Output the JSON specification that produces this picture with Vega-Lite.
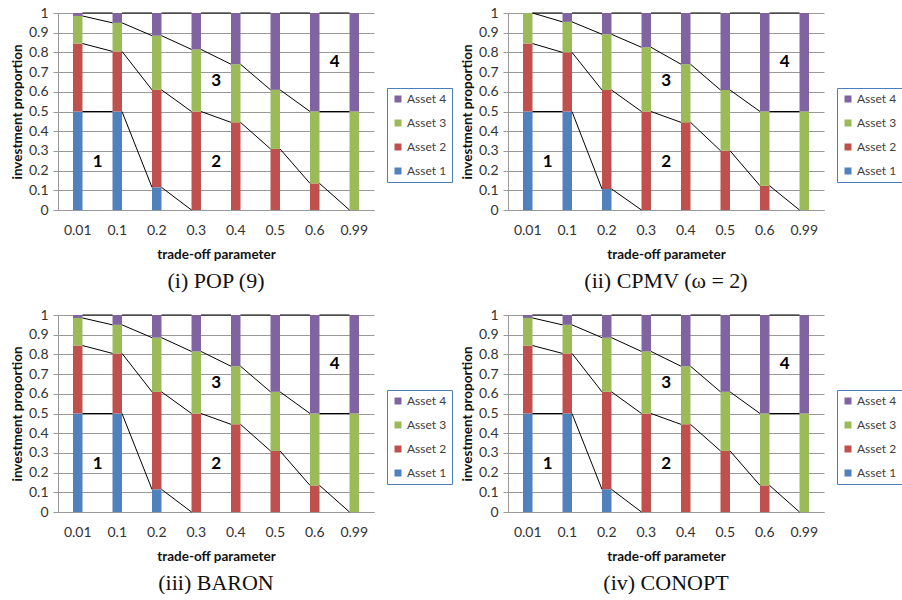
{
  "$schema": "https://vega.github.io/schema/vega-lite/v6.json",
  "padding": {"left": 10, "top": 6, "right": 0, "bottom": 0},
  "background": "white",
  "config": {
    "view": {"stroke": null},
    "axis": {"labelFont": "Lato", "labelFontSize": 14, "labelColor": "#333333", "titleFont": "Lato", "titleFontSize": 13.5, "titleFontWeight": "bold", "titleColor": "#111111", "gridColor": "#999999", "domainColor": "#999999", "tickColor": "#999999"},
    "legend": {"labelFont": "Lato", "labelFontSize": 12, "labelColor": "#404040", "strokeColor": "#4a7ebb", "padding": 5, "rowPadding": 12, "symbolType": "square", "symbolSize": 49, "symbolStrokeWidth": 0, "labelOffset": 3, "orient": "none", "legendX": 329, "legendY": 75},
    "title": {"font": "Liberation Serif", "fontSize": 22, "fontWeight": "normal", "color": "#111111", "orient": "bottom", "frame": "group", "offset": 10}
  },
  "datasets": {
    "pop": [
      {"p": "0.01", "Asset 1": 0.5, "Asset 2": 0.345, "Asset 3": 0.14, "Asset 4": 0.015},
      {"p": "0.1", "Asset 1": 0.5, "Asset 2": 0.305, "Asset 3": 0.145, "Asset 4": 0.05},
      {"p": "0.2", "Asset 1": 0.115, "Asset 2": 0.495, "Asset 3": 0.275, "Asset 4": 0.115},
      {"p": "0.3", "Asset 1": 0, "Asset 2": 0.5, "Asset 3": 0.315, "Asset 4": 0.185},
      {"p": "0.4", "Asset 1": 0, "Asset 2": 0.445, "Asset 3": 0.295, "Asset 4": 0.26},
      {"p": "0.5", "Asset 1": 0, "Asset 2": 0.31, "Asset 3": 0.3, "Asset 4": 0.39},
      {"p": "0.6", "Asset 1": 0, "Asset 2": 0.135, "Asset 3": 0.365, "Asset 4": 0.5},
      {"p": "0.99", "Asset 1": 0, "Asset 2": 0, "Asset 3": 0.5, "Asset 4": 0.5}
    ],
    "cpmv": [
      {"p": "0.01", "Asset 1": 0.5, "Asset 2": 0.345, "Asset 3": 0.155, "Asset 4": 0},
      {"p": "0.1", "Asset 1": 0.5, "Asset 2": 0.3, "Asset 3": 0.155, "Asset 4": 0.045},
      {"p": "0.2", "Asset 1": 0.107, "Asset 2": 0.502, "Asset 3": 0.283, "Asset 4": 0.108},
      {"p": "0.3", "Asset 1": 0, "Asset 2": 0.5, "Asset 3": 0.326, "Asset 4": 0.174},
      {"p": "0.4", "Asset 1": 0, "Asset 2": 0.445, "Asset 3": 0.295, "Asset 4": 0.26},
      {"p": "0.5", "Asset 1": 0, "Asset 2": 0.301, "Asset 3": 0.308, "Asset 4": 0.391},
      {"p": "0.6", "Asset 1": 0, "Asset 2": 0.123, "Asset 3": 0.377, "Asset 4": 0.5},
      {"p": "0.99", "Asset 1": 0, "Asset 2": 0, "Asset 3": 0.5, "Asset 4": 0.5}
    ],
    "baron": [
      {"p": "0.01", "Asset 1": 0.5, "Asset 2": 0.345, "Asset 3": 0.14, "Asset 4": 0.015},
      {"p": "0.1", "Asset 1": 0.5, "Asset 2": 0.305, "Asset 3": 0.145, "Asset 4": 0.05},
      {"p": "0.2", "Asset 1": 0.115, "Asset 2": 0.495, "Asset 3": 0.275, "Asset 4": 0.115},
      {"p": "0.3", "Asset 1": 0, "Asset 2": 0.5, "Asset 3": 0.315, "Asset 4": 0.185},
      {"p": "0.4", "Asset 1": 0, "Asset 2": 0.445, "Asset 3": 0.295, "Asset 4": 0.26},
      {"p": "0.5", "Asset 1": 0, "Asset 2": 0.31, "Asset 3": 0.3, "Asset 4": 0.39},
      {"p": "0.6", "Asset 1": 0, "Asset 2": 0.135, "Asset 3": 0.365, "Asset 4": 0.5},
      {"p": "0.99", "Asset 1": 0, "Asset 2": 0, "Asset 3": 0.5, "Asset 4": 0.5}
    ],
    "conopt": [
      {"p": "0.01", "Asset 1": 0.5, "Asset 2": 0.345, "Asset 3": 0.14, "Asset 4": 0.015},
      {"p": "0.1", "Asset 1": 0.5, "Asset 2": 0.305, "Asset 3": 0.145, "Asset 4": 0.05},
      {"p": "0.2", "Asset 1": 0.115, "Asset 2": 0.495, "Asset 3": 0.275, "Asset 4": 0.115},
      {"p": "0.3", "Asset 1": 0, "Asset 2": 0.5, "Asset 3": 0.315, "Asset 4": 0.185},
      {"p": "0.4", "Asset 1": 0, "Asset 2": 0.445, "Asset 3": 0.295, "Asset 4": 0.26},
      {"p": "0.5", "Asset 1": 0, "Asset 2": 0.31, "Asset 3": 0.3, "Asset 4": 0.39},
      {"p": "0.6", "Asset 1": 0, "Asset 2": 0.135, "Asset 3": 0.365, "Asset 4": 0.5},
      {"p": "0.99", "Asset 1": 0, "Asset 2": 0, "Asset 3": 0.5, "Asset 4": 0.5}
    ],
    "labels": [
      {"p": "0.01", "t": "1", "v": 0.245},
      {"p": "0.3", "t": "2", "v": 0.245},
      {"p": "0.3", "t": "3", "v": 0.655},
      {"p": "0.6", "t": "4", "v": 0.75}
    ]
  },
  "vconcat": [
    {"hconcat": [
      {"width": 316, "height": 197, "title": "(i) POP (9)",
       "layer": [
        {"data": {"name": "pop"}, "transform": [{"fold": ["Asset 1", "Asset 2", "Asset 3", "Asset 4"], "as": ["a", "v"]}],
         "mark": {"type": "bar"},
         "encoding": {
           "x": {"field": "p", "type": "nominal", "scale": {"domain": ["0.01", "0.1", "0.2", "0.3", "0.4", "0.5", "0.6", "0.99"], "paddingInner": 0.76, "paddingOuter": 0.38}, "axis": {"labelAngle": 0, "ticks": false, "labelPadding": 13, "titlePadding": 10}, "title": "trade-off parameter"},
           "y": {"field": "v", "type": "quantitative", "stack": "zero", "scale": {"domain": [0, 1]}, "axis": {"values": [0, 0.1, 0.2, 0.3, 0.4, 0.5, 0.6, 0.7, 0.8, 0.9, 1], "tickCount": 11, "labelOverlap": false, "format": "~g", "tickSize": 5, "labelPadding": 5, "titlePadding": 4}, "title": "investment proportion"},
           "color": {"field": "a", "type": "nominal", "scale": {"domain": ["Asset 4", "Asset 3", "Asset 2", "Asset 1"], "range": ["#8064a2", "#9bbb59", "#c0504d", "#4f81bd"]}, "legend": {"title": null}},
           "order": {"field": "a", "type": "ordinal", "sort": "ascending"}
         }},
        {"data": {"name": "pop"}, "transform": [
           {"fold": ["Asset 1", "Asset 2", "Asset 3", "Asset 4"], "as": ["a", "v"]},
           {"window": [{"op": "sum", "field": "v", "as": "c"}], "groupby": ["p"], "sort": [{"field": "a"}], "frame": [null, 0]},
           {"window": [{"op": "lead", "field": "p", "as": "np"}, {"op": "lead", "field": "c", "as": "nc"}], "groupby": ["a"], "sort": [{"field": "p"}]},
           {"filter": "datum.np != null && (datum.c > 0.001 || datum.nc > 0.001)"}],
         "mark": {"type": "rule", "color": "black", "strokeWidth": 1},
         "encoding": {"x": {"field": "p", "type": "nominal", "bandPosition": 1}, "x2": {"field": "np", "bandPosition": 0}, "y": {"field": "c", "type": "quantitative", "axis": {"values": [0, 0.1, 0.2, 0.3, 0.4, 0.5, 0.6, 0.7, 0.8, 0.9, 1], "tickCount": 11, "labelOverlap": false, "format": "~g", "tickSize": 5, "labelPadding": 5, "titlePadding": 4}}, "y2": {"field": "nc"}}},
        {"data": {"name": "labels"}, "mark": {"type": "text", "font": "Lato", "fontSize": 17, "fontWeight": "bold", "color": "black", "dx": 20},
         "encoding": {"x": {"field": "p", "type": "nominal"}, "y": {"field": "v", "type": "quantitative", "axis": {"values": [0, 0.1, 0.2, 0.3, 0.4, 0.5, 0.6, 0.7, 0.8, 0.9, 1], "tickCount": 11, "labelOverlap": false, "format": "~g", "tickSize": 5, "labelPadding": 5, "titlePadding": 4}}, "text": {"field": "t"}}}
       ]},
      {"width": 316, "height": 197, "title": "(ii) CPMV (ω = 2)",
       "layer": [
        {"data": {"name": "cpmv"}, "transform": [{"fold": ["Asset 1", "Asset 2", "Asset 3", "Asset 4"], "as": ["a", "v"]}],
         "mark": {"type": "bar"},
         "encoding": {
           "x": {"field": "p", "type": "nominal", "scale": {"domain": ["0.01", "0.1", "0.2", "0.3", "0.4", "0.5", "0.6", "0.99"], "paddingInner": 0.76, "paddingOuter": 0.38}, "axis": {"labelAngle": 0, "ticks": false, "labelPadding": 13, "titlePadding": 10}, "title": "trade-off parameter"},
           "y": {"field": "v", "type": "quantitative", "stack": "zero", "scale": {"domain": [0, 1]}, "axis": {"values": [0, 0.1, 0.2, 0.3, 0.4, 0.5, 0.6, 0.7, 0.8, 0.9, 1], "tickCount": 11, "labelOverlap": false, "format": "~g", "tickSize": 5, "labelPadding": 5, "titlePadding": 4}, "title": "investment proportion"},
           "color": {"field": "a", "type": "nominal", "scale": {"domain": ["Asset 4", "Asset 3", "Asset 2", "Asset 1"], "range": ["#8064a2", "#9bbb59", "#c0504d", "#4f81bd"]}, "legend": {"title": null}},
           "order": {"field": "a", "type": "ordinal", "sort": "ascending"}
         }},
        {"data": {"name": "cpmv"}, "transform": [
           {"fold": ["Asset 1", "Asset 2", "Asset 3", "Asset 4"], "as": ["a", "v"]},
           {"window": [{"op": "sum", "field": "v", "as": "c"}], "groupby": ["p"], "sort": [{"field": "a"}], "frame": [null, 0]},
           {"window": [{"op": "lead", "field": "p", "as": "np"}, {"op": "lead", "field": "c", "as": "nc"}], "groupby": ["a"], "sort": [{"field": "p"}]},
           {"filter": "datum.np != null && (datum.c > 0.001 || datum.nc > 0.001)"}],
         "mark": {"type": "rule", "color": "black", "strokeWidth": 1},
         "encoding": {"x": {"field": "p", "type": "nominal", "bandPosition": 1}, "x2": {"field": "np", "bandPosition": 0}, "y": {"field": "c", "type": "quantitative", "axis": {"values": [0, 0.1, 0.2, 0.3, 0.4, 0.5, 0.6, 0.7, 0.8, 0.9, 1], "tickCount": 11, "labelOverlap": false, "format": "~g", "tickSize": 5, "labelPadding": 5, "titlePadding": 4}}, "y2": {"field": "nc"}}},
        {"data": {"name": "labels"}, "mark": {"type": "text", "font": "Lato", "fontSize": 17, "fontWeight": "bold", "color": "black", "dx": 20},
         "encoding": {"x": {"field": "p", "type": "nominal"}, "y": {"field": "v", "type": "quantitative", "axis": {"values": [0, 0.1, 0.2, 0.3, 0.4, 0.5, 0.6, 0.7, 0.8, 0.9, 1], "tickCount": 11, "labelOverlap": false, "format": "~g", "tickSize": 5, "labelPadding": 5, "titlePadding": 4}}, "text": {"field": "t"}}}
       ]}
    ], "spacing": 7, "resolve": {"scale": {"color": "independent"}, "legend": {"color": "independent"}}},
    {"hconcat": [
      {"width": 316, "height": 197, "title": "(iii) BARON",
       "layer": [
        {"data": {"name": "baron"}, "transform": [{"fold": ["Asset 1", "Asset 2", "Asset 3", "Asset 4"], "as": ["a", "v"]}],
         "mark": {"type": "bar"},
         "encoding": {
           "x": {"field": "p", "type": "nominal", "scale": {"domain": ["0.01", "0.1", "0.2", "0.3", "0.4", "0.5", "0.6", "0.99"], "paddingInner": 0.76, "paddingOuter": 0.38}, "axis": {"labelAngle": 0, "ticks": false, "labelPadding": 13, "titlePadding": 10}, "title": "trade-off parameter"},
           "y": {"field": "v", "type": "quantitative", "stack": "zero", "scale": {"domain": [0, 1]}, "axis": {"values": [0, 0.1, 0.2, 0.3, 0.4, 0.5, 0.6, 0.7, 0.8, 0.9, 1], "tickCount": 11, "labelOverlap": false, "format": "~g", "tickSize": 5, "labelPadding": 5, "titlePadding": 4}, "title": "investment proportion"},
           "color": {"field": "a", "type": "nominal", "scale": {"domain": ["Asset 4", "Asset 3", "Asset 2", "Asset 1"], "range": ["#8064a2", "#9bbb59", "#c0504d", "#4f81bd"]}, "legend": {"title": null}},
           "order": {"field": "a", "type": "ordinal", "sort": "ascending"}
         }},
        {"data": {"name": "baron"}, "transform": [
           {"fold": ["Asset 1", "Asset 2", "Asset 3", "Asset 4"], "as": ["a", "v"]},
           {"window": [{"op": "sum", "field": "v", "as": "c"}], "groupby": ["p"], "sort": [{"field": "a"}], "frame": [null, 0]},
           {"window": [{"op": "lead", "field": "p", "as": "np"}, {"op": "lead", "field": "c", "as": "nc"}], "groupby": ["a"], "sort": [{"field": "p"}]},
           {"filter": "datum.np != null && (datum.c > 0.001 || datum.nc > 0.001)"}],
         "mark": {"type": "rule", "color": "black", "strokeWidth": 1},
         "encoding": {"x": {"field": "p", "type": "nominal", "bandPosition": 1}, "x2": {"field": "np", "bandPosition": 0}, "y": {"field": "c", "type": "quantitative", "axis": {"values": [0, 0.1, 0.2, 0.3, 0.4, 0.5, 0.6, 0.7, 0.8, 0.9, 1], "tickCount": 11, "labelOverlap": false, "format": "~g", "tickSize": 5, "labelPadding": 5, "titlePadding": 4}}, "y2": {"field": "nc"}}},
        {"data": {"name": "labels"}, "mark": {"type": "text", "font": "Lato", "fontSize": 17, "fontWeight": "bold", "color": "black", "dx": 20},
         "encoding": {"x": {"field": "p", "type": "nominal"}, "y": {"field": "v", "type": "quantitative", "axis": {"values": [0, 0.1, 0.2, 0.3, 0.4, 0.5, 0.6, 0.7, 0.8, 0.9, 1], "tickCount": 11, "labelOverlap": false, "format": "~g", "tickSize": 5, "labelPadding": 5, "titlePadding": 4}}, "text": {"field": "t"}}}
       ]},
      {"width": 316, "height": 197, "title": "(iv) CONOPT",
       "layer": [
        {"data": {"name": "conopt"}, "transform": [{"fold": ["Asset 1", "Asset 2", "Asset 3", "Asset 4"], "as": ["a", "v"]}],
         "mark": {"type": "bar"},
         "encoding": {
           "x": {"field": "p", "type": "nominal", "scale": {"domain": ["0.01", "0.1", "0.2", "0.3", "0.4", "0.5", "0.6", "0.99"], "paddingInner": 0.76, "paddingOuter": 0.38}, "axis": {"labelAngle": 0, "ticks": false, "labelPadding": 13, "titlePadding": 10}, "title": "trade-off parameter"},
           "y": {"field": "v", "type": "quantitative", "stack": "zero", "scale": {"domain": [0, 1]}, "axis": {"values": [0, 0.1, 0.2, 0.3, 0.4, 0.5, 0.6, 0.7, 0.8, 0.9, 1], "tickCount": 11, "labelOverlap": false, "format": "~g", "tickSize": 5, "labelPadding": 5, "titlePadding": 4}, "title": "investment proportion"},
           "color": {"field": "a", "type": "nominal", "scale": {"domain": ["Asset 4", "Asset 3", "Asset 2", "Asset 1"], "range": ["#8064a2", "#9bbb59", "#c0504d", "#4f81bd"]}, "legend": {"title": null}},
           "order": {"field": "a", "type": "ordinal", "sort": "ascending"}
         }},
        {"data": {"name": "conopt"}, "transform": [
           {"fold": ["Asset 1", "Asset 2", "Asset 3", "Asset 4"], "as": ["a", "v"]},
           {"window": [{"op": "sum", "field": "v", "as": "c"}], "groupby": ["p"], "sort": [{"field": "a"}], "frame": [null, 0]},
           {"window": [{"op": "lead", "field": "p", "as": "np"}, {"op": "lead", "field": "c", "as": "nc"}], "groupby": ["a"], "sort": [{"field": "p"}]},
           {"filter": "datum.np != null && (datum.c > 0.001 || datum.nc > 0.001)"}],
         "mark": {"type": "rule", "color": "black", "strokeWidth": 1},
         "encoding": {"x": {"field": "p", "type": "nominal", "bandPosition": 1}, "x2": {"field": "np", "bandPosition": 0}, "y": {"field": "c", "type": "quantitative", "axis": {"values": [0, 0.1, 0.2, 0.3, 0.4, 0.5, 0.6, 0.7, 0.8, 0.9, 1], "tickCount": 11, "labelOverlap": false, "format": "~g", "tickSize": 5, "labelPadding": 5, "titlePadding": 4}}, "y2": {"field": "nc"}}},
        {"data": {"name": "labels"}, "mark": {"type": "text", "font": "Lato", "fontSize": 17, "fontWeight": "bold", "color": "black", "dx": 20},
         "encoding": {"x": {"field": "p", "type": "nominal"}, "y": {"field": "v", "type": "quantitative", "axis": {"values": [0, 0.1, 0.2, 0.3, 0.4, 0.5, 0.6, 0.7, 0.8, 0.9, 1], "tickCount": 11, "labelOverlap": false, "format": "~g", "tickSize": 5, "labelPadding": 5, "titlePadding": 4}}, "text": {"field": "t"}}}
       ]}
    ], "spacing": 7, "resolve": {"scale": {"color": "independent"}, "legend": {"color": "independent"}}}
  ],
  "spacing": 16,
  "resolve": {"scale": {"color": "independent"}, "legend": {"color": "independent"}}
}
